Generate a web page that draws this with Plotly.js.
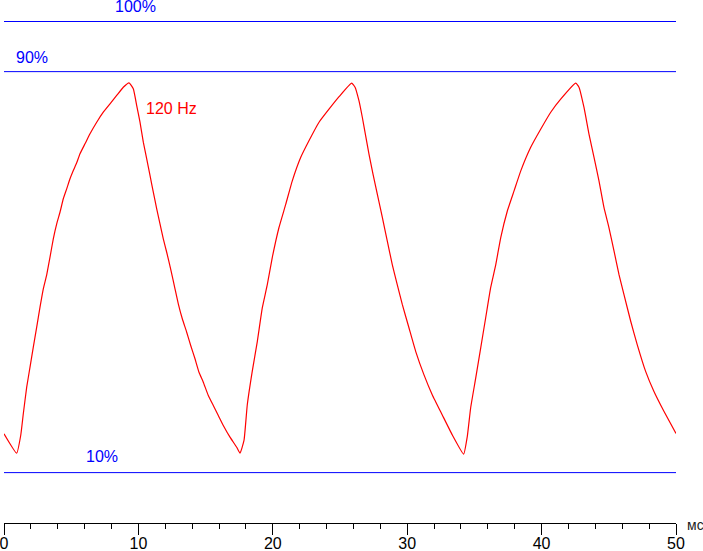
<!DOCTYPE html>
<html>
<head>
<meta charset="utf-8">
<script src="https://cdn.plot.ly/plotly-3.0.1.min.js"></script>
<style>html,body{margin:0;padding:0;background:#fff;}#chart{width:703px;height:551px;}</style>
</head>
<body>
<div id="chart"></div>
<script>
// time, ms
const timeMs = [
  0, 0.945, 1.243, 1.436, 1.689, 1.935, 2.18, 2.433, 2.679, 2.924, 3.177, 3.423, 3.668, 3.921, 4.167, 4.412, 4.665, 4.911,
  5.156, 5.409, 5.655, 6.027, 6.399, 6.897, 7.388, 7.887, 8.385, 8.876, 9.301,
  9.62, 9.874, 10.119, 10.365, 10.618, 10.863, 11.109, 11.362, 11.607, 11.853, 12.106, 12.426, 12.723, 12.969, 13.266,
  13.594, 13.891, 14.211, 14.509, 14.829, 15.201, 15.573, 15.945, 16.317, 16.815, 17.314, 17.56,
  17.857, 18.10, 18.47, 18.85, 19.22, 19.59, 19.96, 20.46, 20.96, 21.45, 22.08, 22.69, 23.44, 24.18, 24.93, 25.87,
  26.12, 26.41, 26.66, 26.91, 27.16, 27.46, 27.78, 28.15, 28.52, 28.89, 29.26, 29.64, 30.13, 30.63, 31.25, 31.87, 32.61, 33.36, 34.20,
  34.47, 34.72, 35.10, 35.47, 35.84, 36.21, 36.59, 36.96, 37.45, 37.95, 38.45, 39.19, 39.93, 40.68, 41.42, 42.54,
  42.78, 43.15, 43.53, 43.90, 44.27, 44.64, 45.01, 45.39, 45.76, 46.13, 46.63, 47.12, 47.74, 48.36, 49.11, 50.0
];
// brightness, %
const brightness = [
  17.75, 13.88, 17.41, 21.74, 27.04, 31.03, 35.02, 39.01, 43.0, 46.67, 49.47, 52.98, 56.65, 59.64, 61.95, 64.63, 66.62, 68.62,
  70.27, 71.81, 73.61, 75.60, 77.60, 79.91, 81.91, 83.58, 85.24, 86.89, 87.77,
  86.57, 83.24, 79.91, 75.92, 72.61, 69.28, 65.95, 62.63, 59.64, 56.65, 53.97, 50.32, 46.67, 43.68, 40.69,
  38.01, 35.36, 32.71, 30.03, 28.04, 25.39, 23.39, 21.40, 19.40, 17.07, 15.07, 13.88,
  16.41, 23.5, 30.2, 36.2, 42.9, 47.5, 52.9, 58.9, 63.5, 68.2, 72.9, 76.2, 79.9, 82.5, 85.0, 87.7,
  86.9, 84.2, 80.9, 77.2, 73.5, 69.5, 65.5, 60.9, 56.2, 51.5, 47.5, 43.5, 38.9, 34.2, 29.5, 25.5, 21.5, 17.5, 13.7,
  17.2, 22.9, 28.9, 34.9, 40.9, 46.9, 51.5, 56.9, 62.2, 66.2, 70.2, 74.9, 78.5, 81.9, 84.5, 87.7,
  86.9, 82.9, 77.5, 72.9, 68.2, 62.9, 58.9, 54.2, 49.5, 45.5, 40.2, 35.5, 30.2, 26.2, 22.2, 17.8
];
const levels = [100, 90, 10];
const levelLabels = ['100%', '90%', '10%'];
const levelLabelX = [9.76, 2.05, 7.28];
const levelLabelY = [102.9, 92.9, 13.3];
const seriesName = '120 Hz';
const xTicks = [0, 10, 20, 30, 40, 50];
const xUnit = 'мс';

const FONT = 'Liberation Sans, Arial, sans-serif';
const BLUE = '#0000ff';
const RED = '#ff0000';

const shapes = levels.map(v => ({
  type: 'line', xref: 'x', yref: 'y', x0: 0, x1: 50, y0: v, y1: v,
  line: {color: BLUE, width: 1}
}));

const annotations = levels.map((v, i) => ({
  x: levelLabelX[i], y: levelLabelY[i], xref: 'x', yref: 'y',
  text: levelLabels[i], showarrow: false, xanchor: 'center', yanchor: 'middle',
  font: {family: FONT, size: 16, color: BLUE}
}));
annotations.push({
  x: 12.45, y: 82.6, xref: 'x', yref: 'y', text: seriesName, showarrow: false,
  xanchor: 'center', yanchor: 'middle', font: {family: FONT, size: 16, color: RED}
});
annotations.push({
  x: 1.013, y: -0.004, xref: 'paper', yref: 'paper', text: xUnit, showarrow: false,
  xanchor: 'left', yanchor: 'middle', font: {family: FONT, size: 14, color: '#222'}
});

const trace = {
  x: timeMs, y: brightness, type: 'scatter', mode: 'lines',
  line: {color: RED, width: 1.2, shape: 'spline', smoothing: 0.4}, name: seriesName, hoverinfo: 'skip'
};

const layout = {
  width: 703, height: 551,
  margin: {l: 4, r: 27, t: 0, b: 28, pad: 0},
  paper_bgcolor: '#fff', plot_bgcolor: '#fff',
  showlegend: false,
  xaxis: {
    range: [0, 50], showgrid: false, zeroline: false,
    showline: true, linecolor: '#000', linewidth: 1,
    ticks: 'outside', ticklen: 11, tickwidth: 1, tickcolor: '#000',
    tickvals: xTicks, ticktext: xTicks.map(String),
    tickfont: {family: FONT, size: 16, color: '#000'},
    ticklabelstandoff: -5,
    ticklabeloverflow: 'allow',
    minor: {dtick: 2, tick0: 0, ticks: 'outside', ticklen: 5, tickwidth: 1, tickcolor: '#000', showgrid: false},
    fixedrange: true
  },
  yaxis: {range: [-0.05, 104.29], visible: false, showgrid: false, zeroline: false, fixedrange: true},
  shapes: shapes,
  annotations: annotations
};

Plotly.newPlot('chart', [trace], layout, {staticPlot: true, displayModeBar: false});
</script>
</body>
</html>
